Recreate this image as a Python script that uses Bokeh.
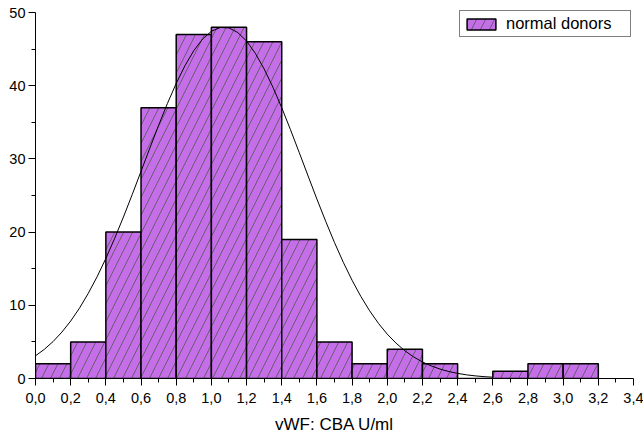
from bokeh.plotting import figure
from bokeh.models import (Range1d, FixedTicker, CustomJSTickFormatter, Legend, LegendItem)
from bokeh.embed import file_html
from bokeh.resources import INLINE

# Histogram data (bin edges and counts)
bin_left = [0.0, 0.2, 0.4, 0.6, 0.8, 1.0, 1.2, 1.4, 1.6, 1.8, 2.0, 2.2, 2.4, 2.6, 2.8, 3.0]
bin_right = [0.2, 0.4, 0.6, 0.8, 1.0, 1.2, 1.4, 1.6, 1.8, 2.0, 2.2, 2.4, 2.6, 2.8, 3.0, 3.2]
counts = [2, 5, 20, 37, 47, 48, 46, 19, 5, 2, 4, 2, 0, 1, 2, 2]

# Fitted normal curve points
curve_x = [0.0, 0.05, 0.1, 0.15, 0.2, 0.25, 0.3, 0.35, 0.4, 0.45, 0.5, 0.55, 0.6, 0.65,
           0.7, 0.75, 0.8, 0.85, 0.9, 0.95, 1.0, 1.05, 1.1, 1.15, 1.2, 1.25, 1.3, 1.35,
           1.4, 1.45, 1.5, 1.55, 1.6, 1.65, 1.7, 1.75, 1.8, 1.85, 1.9, 1.95, 2.0, 2.05,
           2.1, 2.15, 2.2, 2.25, 2.3, 2.35, 2.4, 2.45, 2.5, 2.55, 2.6]
curve_y = [3.10, 3.98, 5.05, 6.34, 7.85, 9.61, 11.63, 13.89, 16.40, 19.14, 22.07, 25.14,
           28.30, 31.47, 34.59, 37.57, 40.32, 42.75, 44.79, 46.38, 47.44, 47.95, 47.90,
           47.27, 46.10, 44.42, 42.29, 39.79, 36.99, 33.98, 30.84, 27.66, 24.51, 21.47,
           18.57, 15.88, 13.42, 11.20, 9.24, 7.53, 6.06, 4.83, 3.79, 2.95, 2.26, 1.72,
           1.29, 0.95, 0.70, 0.50, 0.36, 0.25, 0.18]

x_ticks = [0.0, 0.2, 0.4, 0.6, 0.8, 1.0, 1.2, 1.4, 1.6, 1.8, 2.0, 2.2, 2.4, 2.6, 2.8, 3.0, 3.2, 3.4]
x_minor = [0.1, 0.3, 0.5, 0.7, 0.9, 1.1, 1.3, 1.5, 1.7, 1.9, 2.1, 2.3, 2.5, 2.7, 2.9, 3.1, 3.3]
y_ticks = [0, 10, 20, 30, 40, 50]
y_minor = [5, 15, 25, 35, 45]

series_name = "normal donors"
x_label = "vWF: CBA U/ml"

FONT = "Liberation Sans"

p = figure(width=643, height=439, output_backend="svg", toolbar_location=None,
           x_range=Range1d(0, 3.4), y_range=Range1d(0, 50.55),
           min_border_left=35, min_border_right=10, min_border_top=8, min_border_bottom=61)
p.outline_line_color = None
p.xgrid.visible = False
p.ygrid.visible = False
p.background_fill_color = "white"
p.border_fill_color = "white"

bars = p.quad(left=bin_left, right=bin_right, bottom=0, top=counts,
              fill_color="#C46EE8", line_color="black", line_width=1.5,
              hatch_pattern="/", hatch_scale=18, hatch_color="#555555",
              hatch_alpha=0.8, hatch_weight=1)

p.line(curve_x, curve_y, line_color="black", line_width=1)

for ax in (p.xaxis[0], p.yaxis[0]):
    ax.axis_line_color = "black"
    ax.axis_line_width = 1
    ax.major_tick_in = 0
    ax.major_tick_out = 7
    ax.minor_tick_in = 0
    ax.minor_tick_out = 4
    ax.major_tick_line_color = "black"
    ax.minor_tick_line_color = "black"
    ax.major_label_text_font = FONT
    ax.major_label_text_font_size = "14.5px"
    ax.major_label_text_color = "black"

p.xaxis[0].ticker = FixedTicker(ticks=x_ticks, minor_ticks=x_minor)
p.xaxis[0].formatter = CustomJSTickFormatter(code="return tick.toFixed(1).replace('.', ',');")
p.xaxis[0].major_label_standoff = 7
p.yaxis[0].ticker = FixedTicker(ticks=y_ticks, minor_ticks=y_minor)
p.yaxis[0].major_label_standoff = 3
p.yaxis[0].bounds = (0, 50)

p.xaxis[0].axis_label = x_label
p.xaxis[0].axis_label_text_font = FONT
p.xaxis[0].axis_label_text_font_size = "17px"
p.xaxis[0].axis_label_text_font_style = "normal"
p.xaxis[0].axis_label_text_color = "black"
p.xaxis[0].axis_label_standoff = 9

legend = Legend(items=[LegendItem(label=series_name, renderers=[bars])],
                location="top_right", orientation="vertical",
                padding=3, margin=2, spacing=0,
                glyph_width=36, glyph_height=14, label_standoff=7,
                label_width=121, label_height=16,
                label_text_font=FONT, label_text_font_size="16.5px",
                label_text_color="black",
                border_line_color="black", border_line_width=1,
                background_fill_color="white", background_fill_alpha=1)
p.add_layout(legend)

open("out.html", "w").write(file_html(p, INLINE))
